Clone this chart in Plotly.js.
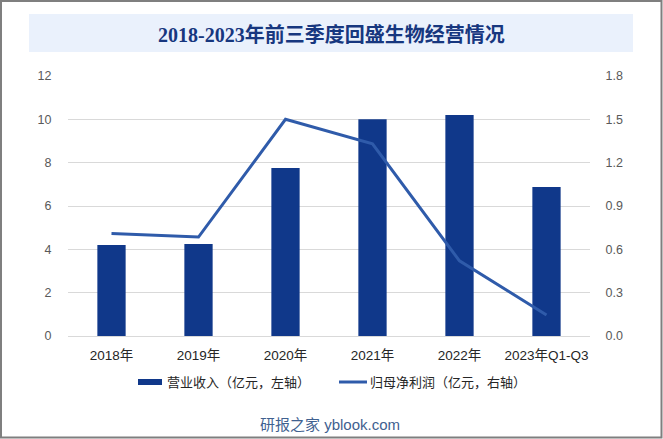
<!DOCTYPE html>
<html>
<head>
<meta charset="utf-8">
<script src="https://cdn.plot.ly/plotly-3.0.1.min.js"></script>
<style>html,body{margin:0;padding:0;background:#fff;}#chart{width:663px;height:439px;}</style>
</head>
<body>
<div id="chart"></div>
<script>
var categories = ["2018年", "2019年", "2020年", "2021年", "2022年", "2023年Q1-Q3"];
var revenue = [4.2, 4.25, 7.75, 10.0, 10.2, 6.88];
var netProfit = [0.71, 0.685, 1.50, 1.33, 0.52, 0.145];
var leftTicks = [0, 2, 4, 6, 8, 10, 12];
var rightTicks = [0.0, 0.3, 0.6, 0.9, 1.2, 1.5, 1.8];
var revenueName = "营业收入（亿元，左轴）";
var profitName = "归母净利润（亿元，右轴）";
var titleText = "2018-2023年前三季度回盛生物经营情况";
var footerText = "研报之家 yblook.com";

var W = 663, H = 439;
var L = 68, R = 590, T = 76, B = 336;
function px(x) { return (x - L) / (R - L); }
function py(y) { return (B - y) / (B - T); }

var sans = "Liberation Sans, Arial, Noto Sans CJK SC, sans-serif";
var barColor = "#10388A";
var lineColor = "#2F5BAA";
var tickGray = "#595959";

var traces = [
  {
    type: "bar", x: categories, y: revenue, name: revenueName,
    marker: { color: barColor }, width: 0.325, yaxis: "y", hoverinfo: "x+y"
  },
  {
    type: "scatter", mode: "lines", x: categories, y: netProfit, name: profitName,
    line: { color: lineColor, width: 3 }, yaxis: "y2", hoverinfo: "x+y"
  }
];

var layout = {
  width: W, height: H,
  margin: { l: L, r: W - R, t: T, b: H - B, pad: 0 },
  paper_bgcolor: "#ffffff", plot_bgcolor: "#ffffff",
  showlegend: false,
  font: { family: sans, size: 12, color: tickGray },
  xaxis: {
    type: "category", showgrid: false, zeroline: false, showline: false,
    ticks: "outside", ticklen: 7, tickcolor: "rgba(0,0,0,0)",
    tickfont: { family: sans, size: 13.5, color: "#262626" }
  },
  yaxis: {
    range: [0, 12], tickvals: leftTicks, ticktext: leftTicks.map(String),
    showgrid: true, gridcolor: "#D9D9D9", gridwidth: 1,
    zeroline: true, zerolinecolor: "#D9D9D9", zerolinewidth: 1,
    showline: false, ticks: "outside", ticklen: 13, tickcolor: "rgba(0,0,0,0)",
    color: tickGray,
    tickfont: { family: sans, size: 12.5, color: tickGray }
  },
  yaxis2: {
    overlaying: "y", side: "right", range: [0, 1.8],
    tickvals: rightTicks, ticktext: rightTicks.map(function (v) { return v.toFixed(1); }),
    showgrid: false, zeroline: false, showline: false,
    ticks: "outside", ticklen: 12, tickcolor: "rgba(0,0,0,0)",
    color: tickGray,
    tickfont: { family: sans, size: 12.5, color: tickGray }
  },
  shapes: [
    { type: "rect", xref: "paper", yref: "paper", layer: "below",
      x0: px(29), x1: px(633), y0: py(14), y1: py(52),
      fillcolor: "#EAF1FC", line: { width: 0 } },
    { type: "rect", xref: "paper", yref: "paper",
      x0: px(1), x1: px(661.5), y0: py(1), y1: py(437.5),
      fillcolor: "rgba(0,0,0,0)", line: { color: "#7F7F7F", width: 2 } },
    { type: "rect", xref: "paper", yref: "paper",
      x0: px(138), x1: px(162), y0: py(379), y1: py(385),
      fillcolor: barColor, line: { width: 0 } },
    { type: "line", xref: "paper", yref: "paper",
      x0: px(339), x1: px(367), y0: py(382), y1: py(382),
      line: { color: lineColor, width: 3 } }
  ],
  annotations: [
    { xref: "paper", yref: "paper", x: px(331), y: py(35), xanchor: "center", yanchor: "middle",
      showarrow: false, text: "<b>" + titleText + "</b>",
      font: { family: "Liberation Serif, Times New Roman, Noto Sans CJK SC, serif", size: 20, color: "#17377F" } },
    { xref: "paper", yref: "paper", x: px(165), y: py(382), xanchor: "left", yanchor: "middle",
      showarrow: false, text: revenueName,
      font: { family: sans, size: 13, color: "#262626" } },
    { xref: "paper", yref: "paper", x: px(368), y: py(382), xanchor: "left", yanchor: "middle",
      showarrow: false, text: profitName,
      font: { family: sans, size: 13, color: "#262626" } },
    { xref: "paper", yref: "paper", x: px(330), y: py(424), xanchor: "center", yanchor: "middle",
      showarrow: false, text: footerText,
      font: { family: sans, size: 15, color: "#3F6190" } }
  ]
};

Plotly.newPlot("chart", traces, layout, { displayModeBar: false, staticPlot: true });
</script>
</body>
</html>
